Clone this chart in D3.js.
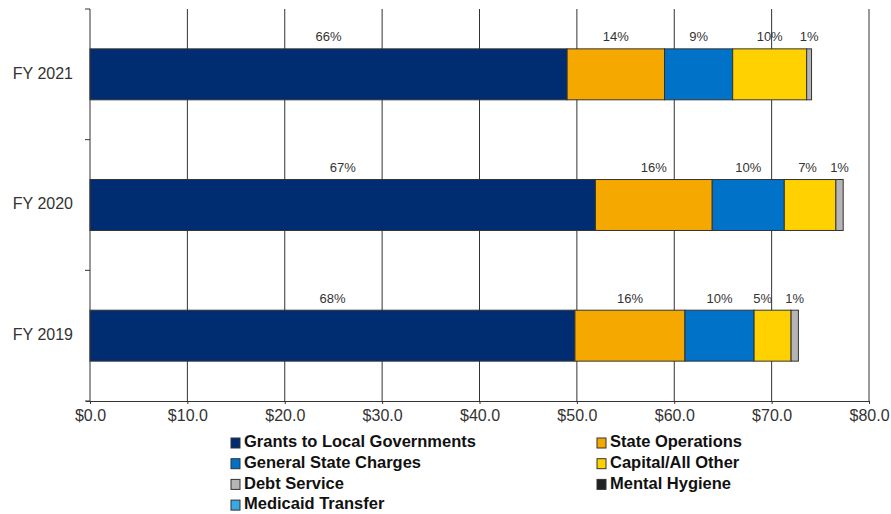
<!DOCTYPE html>
<html>
<head>
<meta charset="utf-8">
<script src="https://cdn.jsdelivr.net/npm/d3@7"></script>
<style>
  body { margin: 0; background: #fff; }
  text { font-family: Arial, "Liberation Sans", sans-serif; }
</style>
</head>
<body>
<svg id="chart" width="891" height="514"></svg>
<script>
// fiscal years, top to bottom
var years = ['FY 2021', 'FY 2020', 'FY 2019'];

var series = ['Grants to Local Governments', 'State Operations', 'General State Charges',
  'Capital/All Other', 'Debt Service', 'Mental Hygiene', 'Medicaid Transfer'];

// $ billions, one value per year (same order as years)
var grants = [49.0, 51.9, 49.8];
var stateOps = [10.0, 12.0, 11.3];
var generalCharges = [7.0, 7.4, 7.1];
var capital = [7.6, 5.3, 3.8];
var debtService = [0.5, 0.75, 0.75];
var mentalHygiene = [0, 0, 0];
var medicaidTransfer = [0, 0, 0];

// percent labels shown above the segments
var pctLabels = [
  ['66%', '14%', '9%', '10%', '1%'],
  ['67%', '16%', '10%', '7%', '1%'],
  ['68%', '16%', '10%', '5%', '1%']
];

var xTicks = [0, 10, 20, 30, 40, 50, 60, 70, 80];

var colors = ['#002D72', '#F5A800', '#0073C9', '#FFD100', '#B5B5B5', '#222222', '#38A9E4'];

var values = [grants, stateOps, generalCharges, capital, debtService, mentalHygiene, medicaidTransfer];

var rows = years.map(function(y, i) {
  var r = {year: y};
  series.forEach(function(s, j) { r[s] = values[j][i]; });
  return r;
});

var margin = {left: 90, right: 22, top: 9, bottom: 113};
var width = 891, height = 514;
var svg = d3.select('#chart');

var x = d3.scaleLinear().domain([0, 80]).range([margin.left, width - margin.right]);
var y = d3.scaleBand().domain(years).range([margin.top, height - margin.bottom])
    .paddingInner(0.61).paddingOuter(0.305);

var stack = d3.stack().keys(series)(rows);

// vertical gridlines
svg.append('g').selectAll('line').data(xTicks.slice(1)).join('line')
    .attr('x1', function(d) { return x(d); })
    .attr('x2', function(d) { return x(d); })
    .attr('y1', margin.top)
    .attr('y2', height - margin.bottom)
    .attr('stroke', '#333')
    .attr('stroke-width', 1);

// bars
svg.append('g').selectAll('g').data(stack).join('g')
    .attr('fill', function(d, i) { return colors[i]; })
  .selectAll('rect').data(function(d) { return d.filter(function(p) { return p[1] - p[0] > 0; }); }).join('rect')
    .attr('x', function(d) { return x(d[0]); })
    .attr('y', function(d) { return y(d.data.year); })
    .attr('width', function(d) { return x(d[1]) - x(d[0]); })
    .attr('height', y.bandwidth())
    .attr('stroke', '#333')
    .attr('stroke-width', 1);

// percent labels, centred on segments, pushed left when they crowd
var minGap = 32;
years.forEach(function(yr, i) {
  var xs = pctLabels[i].map(function(lbl, j) {
    var seg = stack[j][i];
    return x((seg[0] + seg[1]) / 2);
  });
  for (var j = xs.length - 2; j >= 0; j--) {
    if (xs[j + 1] - xs[j] < minGap) xs[j] = xs[j + 1] - minGap;
  }
  pctLabels[i].forEach(function(lbl, j) {
    svg.append('text')
        .attr('x', xs[j])
        .attr('y', y(yr) - 11)
        .attr('text-anchor', 'middle')
        .attr('dominant-baseline', 'middle')
        .attr('font-size', 13)
        .attr('fill', '#333')
        .text(lbl);
  });
});

// x axis
var xAxis = svg.append('g')
    .attr('transform', 'translate(0,' + (height - margin.bottom) + ')')
    .call(d3.axisBottom(x).tickValues(xTicks).tickSize(3).tickSizeOuter(0)
      .tickFormat(function(d) { return '$' + d3.format('.1f')(d); }));
xAxis.select('.domain').attr('stroke', '#333').attr('d', 'M' + (margin.left - 4) + ',0.5H' + x(80));
xAxis.selectAll('.tick line').attr('stroke', '#333');
xAxis.selectAll('.tick text')
    .attr('font-size', 16)
    .attr('fill', '#333')
    .attr('dy', '0.9em')
    .style('font-family', 'Arial, "Liberation Sans", sans-serif');

// y axis: line with ticks between categories
var yAxis = svg.append('g');
yAxis.append('line')
    .attr('x1', x(0)).attr('x2', x(0))
    .attr('y1', margin.top).attr('y2', height - margin.bottom)
    .attr('stroke', '#333');
var step = y.step();
yAxis.selectAll('.sep').data(d3.range(years.length + 1)).join('line')
    .attr('class', 'sep')
    .attr('x1', x(0) - 5).attr('x2', x(0))
    .attr('y1', function(i) { return margin.top + i * step; })
    .attr('y2', function(i) { return margin.top + i * step; })
    .attr('stroke', '#333');
yAxis.selectAll('text').data(years).join('text')
    .attr('x', x(0) - 17)
    .attr('y', function(d) { return y(d) + y.bandwidth() / 2; })
    .attr('text-anchor', 'end')
    .attr('dominant-baseline', 'middle')
    .attr('font-size', 16)
    .attr('fill', '#333')
    .text(function(d) { return d; });

// legend, two columns
var legend = svg.append('g');
var colX = [231, 597];
series.forEach(function(s, i) {
  var cx = colX[i % 2];
  var cy = 443 + Math.floor(i / 2) * 20.7;
  legend.append('rect')
      .attr('x', cx).attr('y', cy - 5)
      .attr('width', 9).attr('height', 10)
      .attr('fill', colors[i])
      .attr('stroke', '#333')
      .attr('stroke-width', 1);
  legend.append('text')
      .attr('x', cx + 13)
      .attr('y', cy)
      .attr('dominant-baseline', 'middle')
      .attr('font-size', 16.5)
      .attr('font-weight', 'bold')
      .attr('fill', '#111')
      .text(s);
});
</script>
</body>
</html>
